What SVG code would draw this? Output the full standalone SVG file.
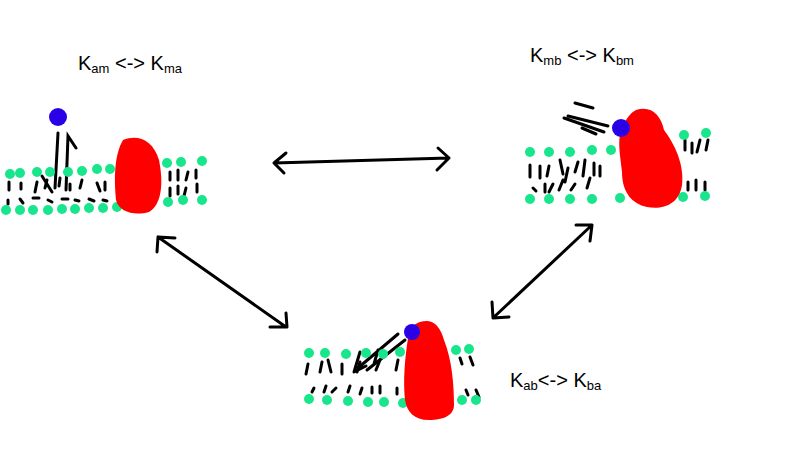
<svg xmlns="http://www.w3.org/2000/svg" width="800" height="450" viewBox="0 0 800 450">
<style>
.h{fill:#19e68c}
.t{stroke:#000;stroke-width:3;stroke-linecap:round;fill:none}
.p{fill:#ff0000}
.b{fill:#2a00e6}
.a{stroke:#000;stroke-width:3;fill:none;stroke-linecap:round;stroke-linejoin:round}
text{font-family:"Liberation Sans",Arial,sans-serif;font-size:20px;fill:#000}
.s{font-size:13px}
</style>
<rect width="800" height="450" fill="#fff"/>
<g id="membrane-am">
<path class="t" d="M9 182v8M21 183v6M37 182l-2 10M47 180l-2 8M60 178l-1 8M70 184v6M82 180l-2 8M97 183l3 8M105 182v8M8 200v4M20 199l3 4M33 198h6M48 200l4 2M62 199h6M75 200l4 1M89 199l5 2M103 200l4 1M170 172v8M178 170v10M188 172l-2 8M196 170v8M170 188v8M178 186v8M186 188l-2 8M197 184v8"/>
<path class="t" d="M58 133l-3 55M42 176l10 16M66 190l2-54 8 12"/>
<g class="h"><circle cx="10" cy="174" r="5"/><circle cx="20" cy="173" r="5"/><circle cx="37" cy="172" r="5"/><circle cx="50" cy="172" r="5"/><circle cx="68" cy="172" r="5"/><circle cx="82" cy="171" r="5"/><circle cx="97" cy="169" r="5"/><circle cx="110" cy="169" r="5"/><circle cx="167" cy="163" r="5"/><circle cx="181" cy="162" r="5"/><circle cx="202" cy="161" r="5"/><circle cx="6" cy="210" r="5"/><circle cx="20" cy="210" r="5"/><circle cx="33" cy="210" r="5"/><circle cx="48" cy="210" r="5"/><circle cx="62" cy="209" r="5"/><circle cx="75" cy="209" r="5"/><circle cx="89" cy="208" r="5"/><circle cx="103" cy="208" r="5"/><circle cx="117" cy="207" r="5"/><circle cx="168" cy="202" r="5"/><circle cx="183" cy="200" r="5"/><circle cx="202" cy="200" r="5"/></g>
<path class="p" d="M123 140c15-6 30 0 36 20 5 25 2 45-10 52-15 4-30 0-33-12-2-20-2-45 7-60z"/>
<circle class="b" cx="58" cy="117" r="9"/>
<text x="78" y="70">K<tspan class="s" dy="3">am</tspan><tspan dy="-3"> &lt;-&gt; K</tspan><tspan class="s" dy="3">ma</tspan></text>
</g>
<g id="membrane-mb">
<path class="t" d="M530 165v12M540 166v12M549 166l-2 10M560 160l3 14M568 168l-3 14M578 162l-3 10M585 160l-2 16M594 163v12M600 166v10M533 188l3 3M545 184v8M553 184l-4 8M563 180l-4 10M575 184l-4 6M590 178l-3 10M685 140v10M692 143v10M700 140l-3 12M708 140l-2 10M688 182v8M696 180v10M705 182v8"/>
<path class="a" d="M608 126l-40-10M604 132l-40-14M575 103l18 5M582 128l14 6"/>
<g class="h"><circle cx="530" cy="152" r="5"/><circle cx="549" cy="152" r="5"/><circle cx="570" cy="152" r="5"/><circle cx="592" cy="150" r="5"/><circle cx="611" cy="150" r="5"/><circle cx="684" cy="135" r="5"/><circle cx="706" cy="133" r="5"/><circle cx="530" cy="199" r="5"/><circle cx="549" cy="199" r="5"/><circle cx="570" cy="199" r="5"/><circle cx="592" cy="199" r="5"/><circle cx="620" cy="198" r="5"/><circle cx="683" cy="197" r="5"/><circle cx="705" cy="196" r="5"/></g>
<path class="p" d="M636 110c15-5 25 5 28 20 15 20 20 40 18 55-3 20-20 25-35 22-15-3-25-15-25-35-2-20-5-30 0-45 5-10 10-15 14-17z"/>
<circle class="b" cx="621" cy="128" r="9"/>
<text x="530" y="62">K<tspan class="s" dy="3">mb</tspan><tspan dy="-3"> &lt;-&gt; K</tspan><tspan class="s" dy="3">bm</tspan></text>
</g>
<g id="membrane-ab">
<path class="t" d="M308 364l-2 10M322 362l-2 10M328 360l3 12M342 364v10M360 362l-3 10M380 360l-4 10M398 360l-2 10M314 388l-2 4M326 386l-2 6M336 388l-4 4M350 386l-2 6M362 388l-2 6M372 387v6M380 386v7M397 388v6M460 358l2 6M470 357l3 8M466 390l2 5M476 390l3 7"/>
<path class="a" d="M398 334l-40 34M405 340l-38 30M360 352l-6 20 12-6M378 350l-4 14"/>
<g class="h"><circle cx="309" cy="353" r="5"/><circle cx="325" cy="353" r="5"/><circle cx="346" cy="354" r="5"/><circle cx="366" cy="353" r="5"/><circle cx="383" cy="354" r="5"/><circle cx="400" cy="352" r="5"/><circle cx="456" cy="350" r="5"/><circle cx="469" cy="349" r="5"/><circle cx="309" cy="399" r="5"/><circle cx="327" cy="400" r="5"/><circle cx="348" cy="401" r="5"/><circle cx="368" cy="402" r="5"/><circle cx="384" cy="402" r="5"/><circle cx="403" cy="403" r="5"/><circle cx="462" cy="400" r="5"/><circle cx="476" cy="400" r="5"/></g>
<path class="p" d="M420 322c12-4 20 3 24 18 8 20 10 45 10 65 0 10-10 15-25 15-15 0-22-8-24-20-2-20 0-40 2-55 2-15 6-21 13-23z"/>
<circle class="b" cx="412" cy="332" r="8"/>
<text x="510" y="387">K<tspan class="s" dy="3">ab</tspan><tspan dy="-3">&lt;-&gt; K</tspan><tspan class="s" dy="3">ba</tspan></text>
</g>
<g id="connectors">
<path class="a" d="M274 163l175-5M286 153l-12 10 10 10M438 148l11 10-12 12"/>
<path class="a" d="M158 237l128 90M157 252l1-15 17 1M270 327l17 0-1-14"/>
<path class="a" d="M493 318l99-93M492 302l1 16 16-1M576 225l16 0-2 16"/>
</g>
</svg>
